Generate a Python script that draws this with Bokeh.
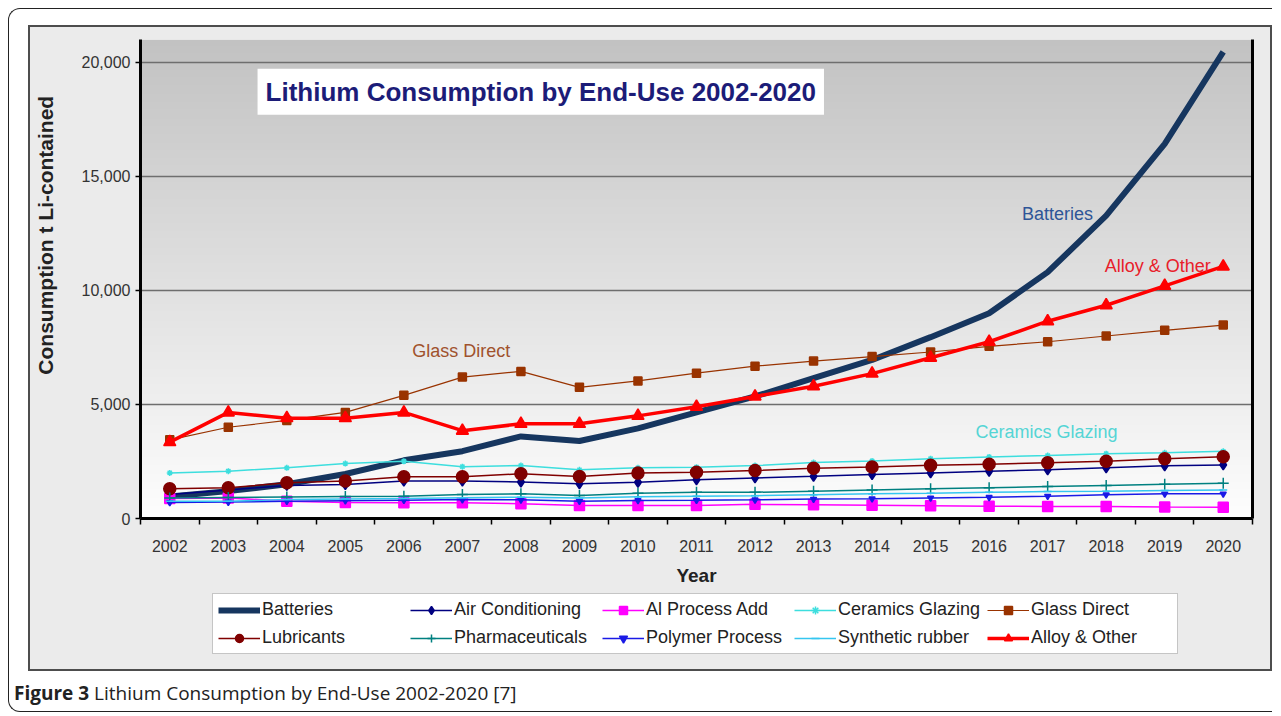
import numpy as np
from bokeh.plotting import figure
from bokeh.models import (Range1d, FixedTicker, LinearAxis, NumeralTickFormatter,
                          Legend, LegendItem, Label, Div, Spacer)
from bokeh.layouts import column, row
from bokeh.embed import file_html
from bokeh.resources import INLINE

# ---------------- data ----------------
years = list(range(2002, 2021))
batteries = [960, 1200, 1500, 1950, 2550, 2950, 3600, 3400, 3950, 4650, 5350, 6150, 6950, 7950, 9000, 10800, 13280, 16420, 20460]
air_conditioning = [1050, 1250, 1450, 1490, 1640, 1640, 1600, 1520, 1590, 1700, 1780, 1850, 1930, 2000, 2070, 2135, 2220, 2310, 2350]
al_process_add = [880, 900, 760, 700, 690, 690, 645, 570, 570, 570, 620, 600, 580, 560, 540, 525, 525, 500, 495]
ceramics_glazing = [2000, 2075, 2220, 2410, 2510, 2270, 2320, 2135, 2220, 2250, 2320, 2450, 2520, 2620, 2700, 2760, 2840, 2880, 2945]
glass_direct = [3450, 4000, 4300, 4650, 5400, 6200, 6450, 5750, 6030, 6370, 6680, 6900, 7100, 7300, 7550, 7750, 8000, 8250, 8480]
lubricants = [1300, 1345, 1565, 1640, 1830, 1830, 1960, 1840, 1990, 2030, 2100, 2200, 2260, 2330, 2380, 2440, 2510, 2620, 2710]
pharmaceuticals = [900, 920, 940, 960, 980, 1050, 1080, 1010, 1110, 1150, 1150, 1200, 1250, 1300, 1350, 1400, 1450, 1500, 1550]
polymer_process = [700, 720, 760, 780, 800, 830, 820, 760, 790, 800, 820, 850, 870, 900, 930, 980, 1040, 1080, 1080]
synthetic_rubber = [760, 760, 830, 860, 880, 910, 935, 900, 950, 980, 1000, 1040, 1080, 1110, 1150, 1180, 1200, 1230, 1250]
alloy_other = [3350, 4650, 4400, 4400, 4650, 3850, 4150, 4150, 4500, 4900, 5350, 5800, 6350, 7050, 7750, 8650, 9350, 10200, 11050]

series_names = ["Batteries", "Air Conditioning", "Al Process Add", "Ceramics Glazing", "Glass Direct",
                "Lubricants", "Pharmaceuticals", "Polymer Process", "Synthetic rubber", "Alloy & Other"]
series_values = [batteries, air_conditioning, al_process_add, ceramics_glazing, glass_direct,
                 lubricants, pharmaceuticals, polymer_process, synthetic_rubber, alloy_other]
y_ticks = [0, 5000, 10000, 15000, 20000]
y_max = 21000

# ---------------- styles ----------------
styles = {
    "Batteries":        dict(color="#16365f", width=6.0, marker=None, size=0),
    "Air Conditioning": dict(color="#000080", width=1.5, marker="diamond", size=10),
    "Al Process Add":   dict(color="#ff00ff", width=1.5, marker="square", size=10),
    "Ceramics Glazing": dict(color="#3ddede", width=1.5, marker="asterisk", size=6),
    "Glass Direct":     dict(color="#993300", width=1.2, marker="square", size=8),
    "Lubricants":       dict(color="#800000", width=1.5, marker="circle", size=12),
    "Pharmaceuticals":  dict(color="#008080", width=1.5, marker="cross", size=11),
    "Polymer Process":  dict(color="#1a1ae6", width=1.5, marker="inverted_triangle", size=6),
    "Synthetic rubber": dict(color="#35c6f0", width=1.5, marker="dash", size=8),
    "Alloy & Other":    dict(color="#ff0000", width=3.5, marker="triangle", size=12),
}

FONT = "Liberation Sans"
x_lo, x_hi = years[0] - 0.5, years[-1] + 0.5

p = figure(width=1240, height=563, x_range=Range1d(x_lo, x_hi), y_range=Range1d(0, y_max),
           output_backend="svg", toolbar_location=None,
           min_border_left=110, min_border_right=18, min_border_top=12, min_border_bottom=72,
           background_fill_color="white", border_fill_alpha=0, outline_line_color=None)

# gradient plot background
n = 256
t = np.linspace(0.0, 1.0, n)
g = np.round(253 - (253 - 194) * t).astype(np.uint8)
img = np.zeros((n, 1), dtype=np.uint32)
view = img.view(dtype=np.uint8).reshape((n, 1, 4))
view[:, 0, 0] = g
view[:, 0, 1] = g
view[:, 0, 2] = g
view[:, 0, 3] = 255
p.image_rgba(image=[img], x=x_lo, y=0, dw=x_hi - x_lo, dh=y_max, level="image")

# grid
p.xgrid.visible = False
p.ygrid.ticker = FixedTicker(ticks=y_ticks[1:])
p.ygrid.grid_line_color = "#6e6e6e"
p.ygrid.grid_line_width = 1.5

# y axis (leading no-break spaces lift the title, as in the reference)
ya = p.yaxis[0]
ya.ticker = FixedTicker(ticks=y_ticks)
ya.formatter = NumeralTickFormatter(format="0,0")
ya.axis_line_width = 3
ya.axis_line_color = "black"
ya.major_tick_out = 5
ya.major_tick_in = 0
ya.major_tick_line_width = 1.5
ya.minor_tick_out = 0
ya.minor_tick_in = 0
ya.major_label_text_font = FONT
ya.major_label_text_font_size = "16px"
ya.major_label_text_color = "#333333"
ya.major_label_standoff = 5
ya.axis_label = "\u00a0" * 15 + "Consumption t Li-contained"
ya.axis_label_text_font = FONT
ya.axis_label_text_font_style = "bold"
ya.axis_label_text_font_size = "21px"
ya.axis_label_text_color = "#222222"
ya.axis_label_standoff = 22

# x axis
xa = p.xaxis[0]
xa.ticker = FixedTicker(ticks=years, minor_ticks=[yr - 0.5 for yr in years] + [years[-1] + 0.5])
xa.axis_line_width = 3
xa.axis_line_color = "black"
xa.major_tick_out = 0
xa.major_tick_in = 0
xa.minor_tick_out = 6
xa.minor_tick_in = 0
xa.minor_tick_line_color = "black"
xa.minor_tick_line_width = 1.5
xa.major_label_text_font = FONT
xa.major_label_text_font_size = "16px"
xa.major_label_text_color = "#333333"
xa.major_label_standoff = 15
xa.axis_label = "Year"
xa.axis_label_text_font = FONT
xa.axis_label_text_font_style = "bold"
xa.axis_label_text_font_size = "19px"
xa.axis_label_text_color = "#222222"
xa.axis_label_standoff = 10

# right frame line
ra = LinearAxis(ticker=FixedTicker(ticks=[]), axis_line_width=3, axis_line_color="black",
                major_label_text_font_size="0px", major_label_standoff=0,
                major_tick_out=0, major_tick_in=0, minor_tick_out=0, minor_tick_in=0)
p.add_layout(ra, "right")

# series
for name, vals in zip(series_names, series_values):
    st = styles[name]
    p.line(years, vals, line_color=st["color"], line_width=st["width"])
    if st["marker"]:
        p.scatter(years, vals, marker=st["marker"], size=st["size"],
                  fill_color=st["color"], line_color=st["color"], line_width=1.5)

# title box
p.add_layout(Label(x=2003.5, y=18706, text="Lithium Consumption by End-Use 2002-2020",
                   text_font=FONT, text_font_style="bold", text_font_size="26px",
                   text_color="#1c1c78", text_align="left", text_baseline="middle",
                   background_fill_color="white", padding=8))

# series labels
for txt, lx, ly, col in [("Batteries", 2017.17, 13333, "#2e5597"),
                         ("Alloy & Other", 2018.88, 11053, "#e8202a"),
                         ("Glass Direct", 2006.98, 7325, "#a0522d"),
                         ("Ceramics Glazing", 2016.98, 3780, "#55d5d5")]:
    p.add_layout(Label(x=lx, y=ly, text=txt, text_font=FONT, text_font_size="18px",
                       text_color=col, text_align="center", text_baseline="middle"))

# ---------------- legend strip (same grey chart area) ----------------
# The same series are drawn here, outside the visible range, only to feed the legend.
q = figure(width=1240, height=79, x_range=Range1d(0, 1), y_range=Range1d(0, 1),
           x_axis_type=None, y_axis_type=None, output_backend="svg", toolbar_location=None,
           min_border=0, background_fill_alpha=0, border_fill_alpha=0,
           outline_line_color=None)
q.grid.visible = False
items = []
for name, vals in zip(series_names, series_values):
    st = styles[name]
    rs = [q.line(years, vals, line_color=st["color"], line_width=st["width"])]
    if st["marker"]:
        rs.append(q.scatter(years, vals, marker=st["marker"], size=st["size"] * 0.8,
                            fill_color=st["color"], line_color=st["color"], line_width=1.5))
    items.append(LegendItem(label=name, renderers=rs))

legend = Legend(items=items, location=(72, 15), orientation="horizontal", nrows=2,
                label_text_font=FONT, label_text_font_size="18px", label_text_color="#222222",
                glyph_width=42, glyph_height=20, label_standoff=2, label_width=141,
                spacing=7, padding=5, margin=0,
                border_line_color="#8c8c8c", border_line_width=1.5,
                background_fill_color="white", background_fill_alpha=1.0)
q.add_layout(legend, "center")

chart_box = column(p, q, styles={"border": "2px solid #4d4d4d", "background-color": "#ebebeb"})

caption = Div(text="<b>Figure 3</b> Lithium Consumption by End-Use 2002-2020 [7]",
              width=800, height=26,
              styles={"font-family": "'Open Sans'", "font-size": "19px", "color": "#222222",
                      "line-height": "26px"})

layout = column(Spacer(height=16), row(Spacer(width=19), chart_box), Spacer(height=4), caption,
                styles={"border-left": "1px solid #222", "border-top": "1px solid #222",
                        "border-bottom": "1px solid #222",
                        "border-radius": "12px 0 0 12px", "background-color": "white",
                        "margin-left": "8px", "margin-top": "8px"})

open("out.html", "w").write(file_html(layout, INLINE))
